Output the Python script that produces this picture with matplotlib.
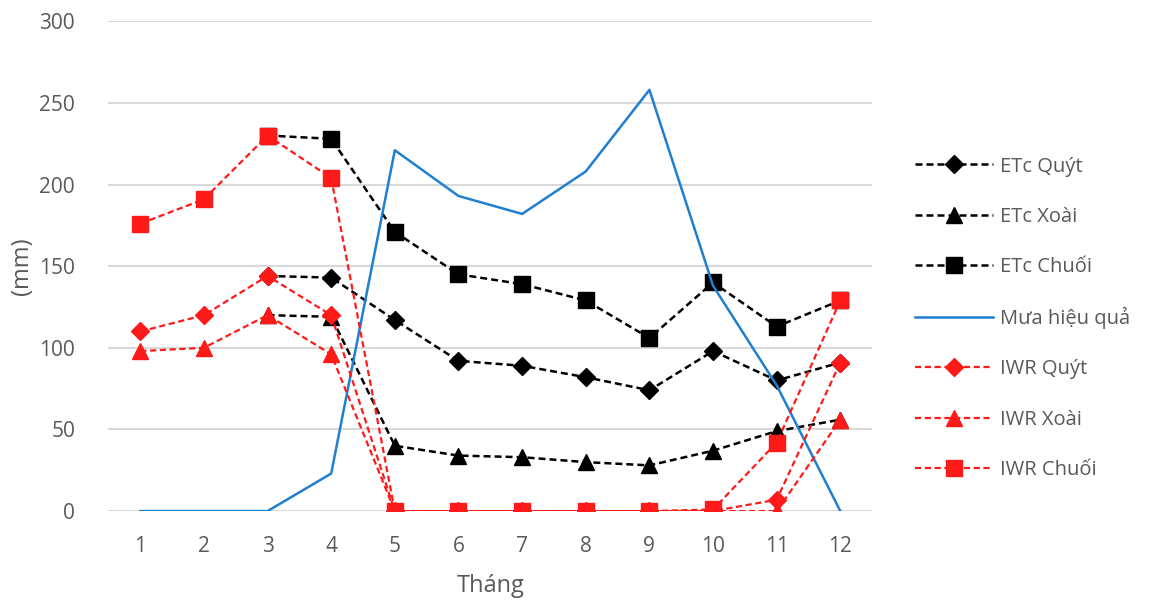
import matplotlib.pyplot as plt
import numpy as np

plt.rcParams.update({"font.family": ["Open Sans", "DejaVu Sans"], "font.size": 12})

thang = np.arange(1, 13)
# ETc is charted from month 3 onwards
etc_quyt = [None, None, 144, 143, 117, 92, 89, 82, 74, 98, 80, 91]
etc_xoai = [None, None, 120, 119, 40, 34, 33, 30, 28, 37, 49, 56]
etc_chuoi = [None, None, 230, 228, 171, 145, 139, 129, 106, 140, 113, 129]
mua = [0, 0, 0, 23, 221, 193, 182, 208, 258, 138, 77, 0]
iwr_quyt = [110, 120, 144, 120, 0, 0, 0, 0, 0, 0, 7, 91]
iwr_xoai = [98, 100, 120, 96, 0, 0, 0, 0, 0, 0, 0, 56]
iwr_chuoi = [176, 191, 230, 204, 0, 0, 0, 0, 0, 1, 42, 129]

def arr(v):
    return np.array([np.nan if x is None else x for x in v], dtype=float)

fig = plt.figure(figsize=(11.66, 6.07), dpi=100)
ax = fig.add_axes([0.093, 0.158, 0.655, 0.807])

dash = (0, (2.8, 1.6))
ax.plot(thang, arr(etc_quyt), color='black', ls=dash, lw=1.8, marker='D', ms=9, label='ETc Quýt')
ax.plot(thang, arr(etc_xoai), color='black', ls=dash, lw=1.8, marker='^', ms=11, label='ETc Xoài')
ax.plot(thang, arr(etc_chuoi), color='black', ls=dash, lw=1.8, marker='s', ms=12, label='ETc Chuối')
ax.plot(thang, mua, color='#1f7fd0', lw=1.8, label='Mưa hiệu quả')
ax.plot(thang, iwr_quyt, color='#ff1a1a', ls=dash, lw=1.6, marker='D', ms=9, label='IWR Quýt')
ax.plot(thang, iwr_xoai, color='#ff1a1a', ls=dash, lw=1.6, marker='^', ms=11, label='IWR Xoài')
ax.plot(thang, iwr_chuoi, color='#ff1a1a', ls=dash, lw=1.6, marker='s', ms=12, label='IWR Chuối')

ax.set_xlim(0.5, 12.5)
ax.set_ylim(0, 300)
ax.set_xticks(thang)
ax.set_yticks(range(0, 301, 50))
ax.grid(axis='y', color='#d9d9d9', lw=1.5)
ax.set_axisbelow(True)
for s in ax.spines.values():
    s.set_visible(False)
ax.tick_params(axis='y', length=0, colors='#595959', labelsize=15, pad=24)
ax.tick_params(axis='x', length=0, colors='#595959', labelsize=15, pad=18)
ax.set_xlabel('Tháng', color='#595959', fontsize=17, labelpad=12)
ax.set_ylabel('(mm)', color='#595959', fontsize=17, labelpad=4)

fig.legend(loc='upper left', bbox_to_anchor=(0.769, 0.772), frameon=False,
           fontsize=14.5, labelcolor='#595959', handlelength=3.9, labelspacing=1.5,
           handletextpad=0.35)

fig.savefig('out.png', dpi=100)
